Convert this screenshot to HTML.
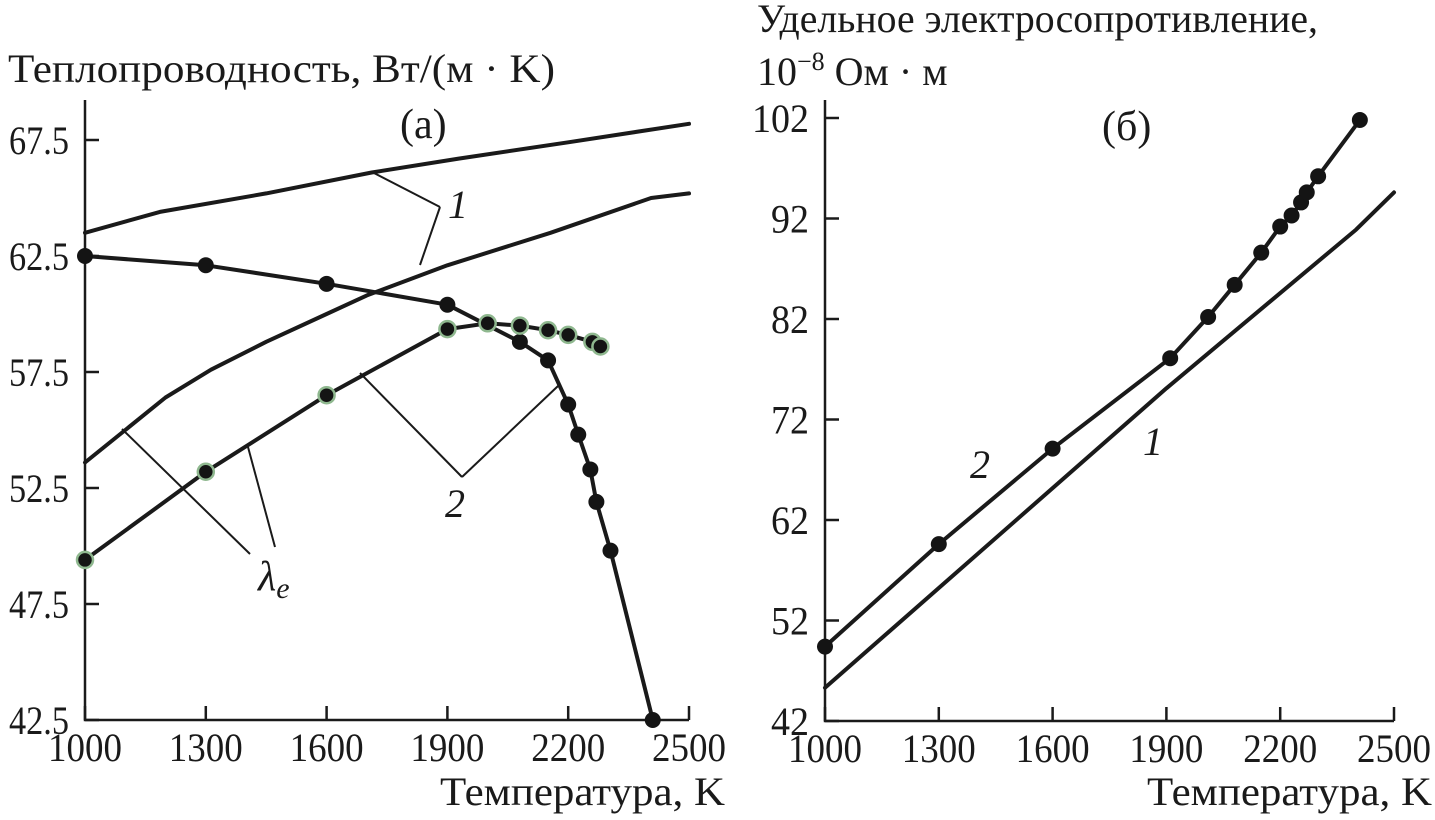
<!DOCTYPE html>
<html><head><meta charset="utf-8"><style>
body{margin:0;background:#fff;}
svg{display:block;font-family:"Liberation Serif",serif;}
</style></head><body>
<svg id="c" width="1435" height="820" viewBox="0 0 1435 820">
</svg>
<script>
const xTicks=[1000,1300,1600,1900,2200,2500];
const yTicksA=[42.5,47.5,52.5,57.5,62.5,67.5];
const yTicksB=[42,52,62,72,82,92,102];
// panel a
const a1upperT=[1000,1186,1450,1712,1928,2200,2500];
const a1upperV=[63.5,64.4,65.2,66.1,66.7,67.4,68.2];
const a1lowerT=[1000,1100,1200,1313,1450,1600,1700,1900,2156,2406,2500];
const a1lowerV=[53.6,55.0,56.4,57.6,58.8,60.0,60.8,62.1,63.5,65.0,65.2];
const a2blackT=[1000,1300,1600,1900,2080,2150,2200,2225,2255,2270,2305,2410];
const a2blackV=[62.5,62.1,61.3,60.4,58.8,58.0,56.1,54.8,53.3,51.9,49.8,42.5];
const a2greenT=[1000,1300,1600,1900,2000,2080,2150,2200,2260,2280];
const a2greenV=[49.4,53.2,56.5,59.35,59.6,59.5,59.3,59.1,58.8,58.6];
// panel b
const b1T=[1000,1900,2400,2500];
const b1V=[45.3,75.1,90.9,94.6];
const b2T=[1000,1300,1600,1910,2010,2080,2150,2200,2230,2255,2270,2300,2410];
const b2V=[49.4,59.6,69.1,78.1,82.2,85.4,88.6,91.2,92.3,93.6,94.6,96.2,101.8];

const NS="http://www.w3.org/2000/svg";
const svg=document.getElementById('c');
function el(tag,attrs,parent){const e=document.createElementNS(NS,tag);for(const k in attrs)e.setAttribute(k,attrs[k]);(parent||svg).appendChild(e);return e;}
function txt(s,x,y,size,anchor,style,len){const t=el('text',{x:x,y:y,'font-size':size,'text-anchor':anchor||'start',fill:'#1a1a1a'});if(style)t.setAttribute('font-style',style);if(len){t.setAttribute('textLength',len);t.setAttribute('lengthAdjust','spacingAndGlyphs');}t.textContent=s;return t;}

const A={x:t=>85+(t-1000)/1500*604,y:v=>720-(v-42.5)*23.2};
const B={x:t=>825+(t-1000)/1500*569,y:v=>721-(v-42)*10.05};

function axes(P,yt,top,name,fmt,ylen){
  const x0=P.x(1000),x1=P.x(2500),y0=P.y(yt[0]);
  const ax=el('path',{d:`M${x0},${top}V${y0}H${x1}`,stroke:'#1a1a1a','stroke-width':2.5,fill:'none'});
  
  
  xTicks.forEach(t=>{el('line',{x1:P.x(t),x2:P.x(t),y1:y0,y2:y0-14,stroke:'#1a1a1a','stroke-width':2.5});
    const l=txt(String(t),P.x(t),y0+41,40,'middle',null,74);
    
    });
  yt.forEach(v=>{el('line',{x1:x0,x2:x0+14,y1:P.y(v),y2:P.y(v),stroke:'#1a1a1a','stroke-width':2.5});
    const s=fmt(v);
    const l=txt(s,x0-16,P.y(v)+14,40,'end',null,ylen(s));
    
    });
}
axes(A,yTicksA,100,'panel-a',v=>v.toFixed(1),s=>60);
axes(B,yTicksB,100,'panel-b',v=>String(v),s=>s.length*19);

function line(P,T,V,name){
  const d=T.map((t,i)=>(i?'L':'M')+P.x(t).toFixed(1)+','+P.y(V[i]).toFixed(1)).join('');
  const p=el('path',{d:d,stroke:'#1a1a1a','stroke-width':4,fill:'none','stroke-linejoin':'round','stroke-linecap':'round'});
  
  
}
function dots(P,T,V,name,green){
  T.forEach((t,i)=>{const c=el('circle',{cx:P.x(t),cy:P.y(V[i]),r:8,fill:'#141414',stroke:green?'#8fb88f':'none','stroke-width':green?2.5:0});
    
    });
}
line(A,a1upperT,a1upperV,'curve-1-upper');
line(A,a1lowerT,a1lowerV,'curve-1-lower');
line(A,a2blackT,a2blackV,'curve-black-dotted');
line(A,a2greenT,a2greenV,'curve-2-green');
dots(A,a2blackT,a2blackV,'black-point',false);
dots(A,a2greenT,a2greenV,'green-point',true);
line(B,b1T,b1V,'resistivity-curve-1');
line(B,b2T,b2V,'resistivity-curve-2');
dots(B,b2T,b2V,'resistivity-point',false);

[[372,172,440,207],[440,207,420,265],[360,373,462,477],[462,477,558,386],[122,429,250,554],[248,447,275,547]].forEach(s=>{
  const l=el('line',{x1:s[0],y1:s[1],x2:s[2],y2:s[3],stroke:'#1a1a1a','stroke-width':2});
  
  
});
function lab(s,x,y,size,name,style,anchor,len){const t=txt(s,x,y,size,anchor||'start',style,len);
  
  return t;}
lab('Теплопроводность, Вт/(м · K)',8,82,40,'panel-a-y-title',null,null,547);
lab('(a)',400,138,42,'panel-a-label');
lab('1',448,218,40,'label-1-a','italic');
lab('2',445,517,40,'label-2-a','italic');
const le=lab('λ',258,590,42,'label-lambda-e','italic');
const sub=el('tspan',{'font-size':30,dy:8},le);sub.textContent='e';
lab('Температура, K',440,805,40,'panel-a-x-title',null,null,285);
lab('Удельное электросопротивление,',757,32,40,'panel-b-y-title-1',null,null,561);
const t2=lab('10',757,85,40,'panel-b-y-title-2');
const sp=el('tspan',{'font-size':26,dy:-15},t2);sp.textContent='−8';
const sp2=el('tspan',{dy:15},t2);sp2.textContent=' Ом · м';
lab('(б)',1102,140,42,'panel-b-label');
lab('1',1143,455,40,'label-1-b','italic');
lab('2',970,478,40,'label-2-b','italic');
lab('Температура, K',1147,805,40,'panel-b-x-title',null,null,285);
</script>
</body></html>
